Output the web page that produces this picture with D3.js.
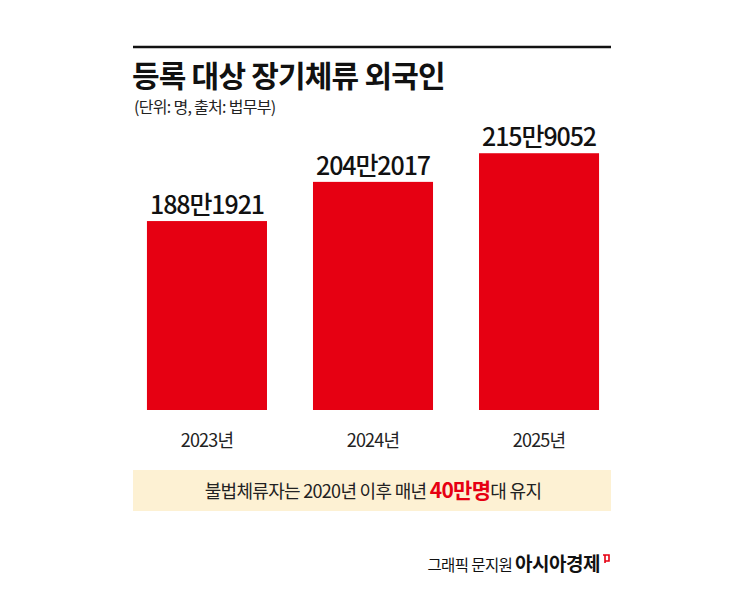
<!DOCTYPE html><html><head><meta charset="utf-8"><script src="https://cdn.jsdelivr.net/npm/d3@7"></script>
<style>body{margin:0;background:#fff}text{font-family:"Noto Sans CJK KR",sans-serif}</style></head><body>
<svg id="c" width="745" height="596"></svg>
<script>
const categories=["2023년","2024년","2025년"];
const values=[188.1921,204.2017,215.9052];
const valueLabels=["188만1921","204만2017","215만9052"];
const svg=d3.select("#c");
const x=d3.scaleBand().domain(categories).range([133,613]).paddingInner(0.277).paddingOuter(0.084);
const y=d3.scaleLinear().domain([111,216]).range([410,153]);
svg.append("line").attr("x1",133).attr("x2",611).attr("y1",47).attr("y2",47).attr("stroke","#111").attr("stroke-width",2.5);
svg.append("text").attr("x",132).attr("y",87).attr("font-size",30).attr("font-weight",700).attr("letter-spacing",-0.8).attr("fill","#111").text("등록 대상 장기체류 외국인");
svg.append("text").attr("x",134).attr("y",113).attr("font-size",16).attr("letter-spacing",-0.7).attr("fill","#222").text("(단위: 명, 출처: 법무부)");
svg.selectAll("rect.bar").data(values).join("rect").attr("class","bar")
 .attr("x",(d,i)=>x(categories[i])).attr("width",x.bandwidth()).attr("y",d=>y(d)).attr("height",d=>y.range()[0]-y(d)).attr("fill","#e60012");
svg.selectAll("text.vl").data(values).join("text").attr("class","vl").attr("text-anchor","middle")
 .attr("x",(d,i)=>x(categories[i])+x.bandwidth()/2).attr("y",d=>y(d)-7).attr("font-size",25).attr("font-weight",500).attr("letter-spacing",-1.1).attr("fill","#111").text((d,i)=>valueLabels[i]);
svg.selectAll("text.cat").data(categories).join("text").attr("class","cat").attr("text-anchor","middle")
 .attr("x",d=>x(d)+x.bandwidth()/2).attr("y",447).attr("font-size",18).attr("letter-spacing",-0.8).attr("fill","#222").text(d=>d);
svg.append("rect").attr("x",133).attr("y",470).attr("width",478).attr("height",41).attr("fill","#fdf1d3");
const t=svg.append("text").attr("x",373).attr("y",498).attr("text-anchor","middle").attr("font-size",18).attr("letter-spacing",-0.7).attr("fill","#222");
t.append("tspan").text("불법체류자는 2020년 이후 매년 ");
t.append("tspan").attr("fill","#e60012").attr("font-weight",700).attr("font-size",21).text("40만명");
t.append("tspan").text("대 유지");
const f=svg.append("text").attr("x",600).attr("y",571).attr("text-anchor","end").attr("fill","#111");
f.append("tspan").attr("font-size",15.5).attr("letter-spacing",-0.6).text("그래픽 문지원 ");
f.append("tspan").attr("font-size",19).attr("font-weight",700).attr("letter-spacing",-0.5).text("아시아경제");
svg.append("path").attr("d","M603,555 h6 v6 h-4 M605,555 v8").attr("fill","none").attr("stroke","#e60012").attr("stroke-width",1.6);
</script></body></html>
